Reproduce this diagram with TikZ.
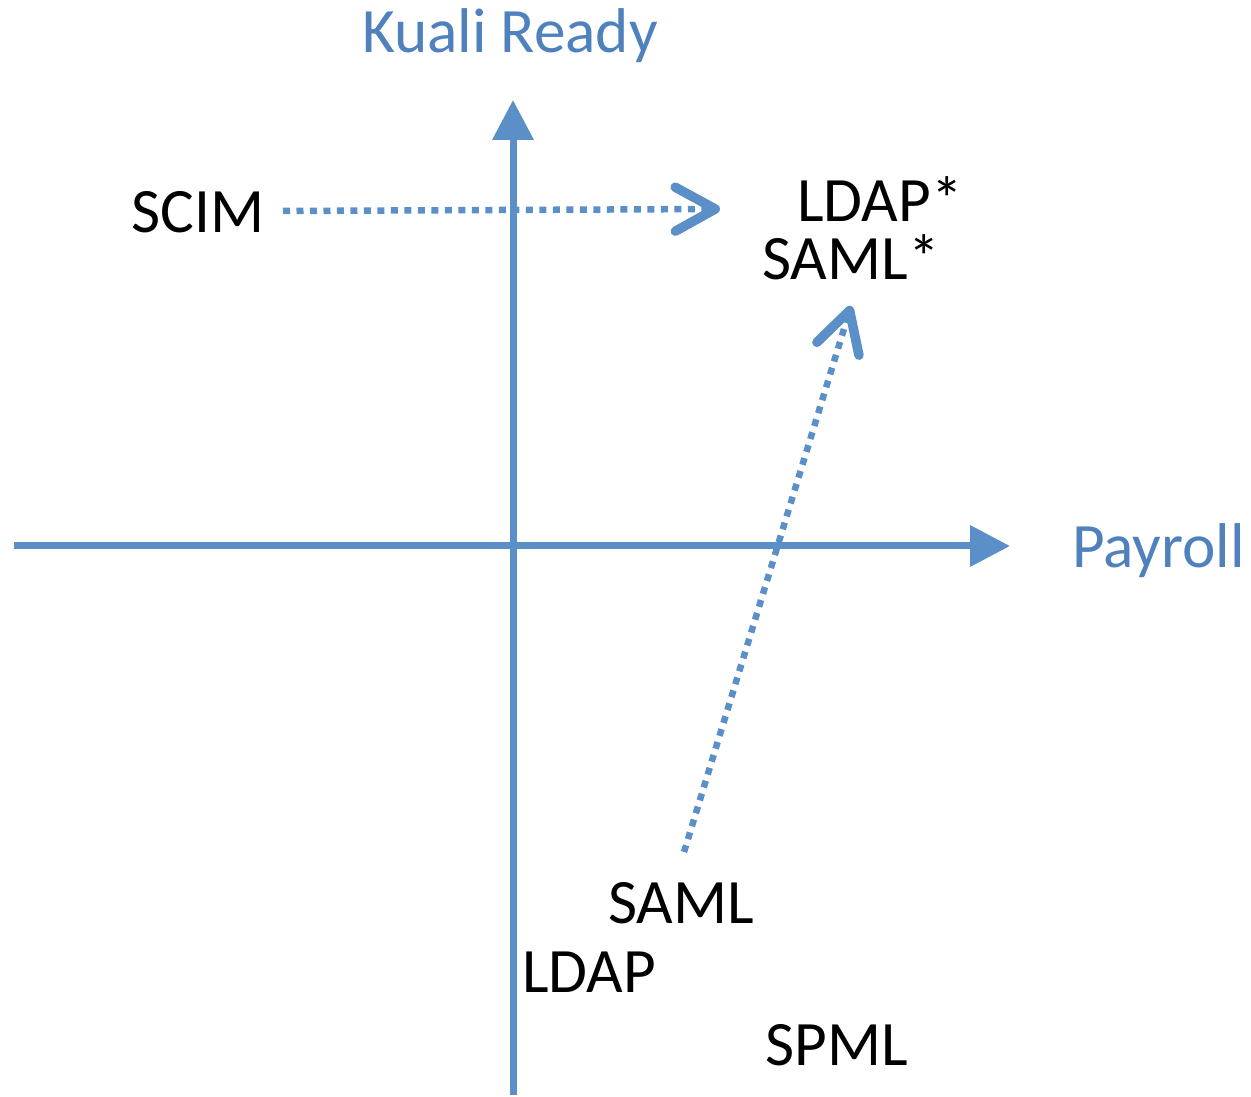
\documentclass[tikz,border=0pt]{standalone}
\usepackage{fontspec}
\setmainfont{Carlito}
\usetikzlibrary{arrows.meta}
\definecolor{axisblue}{RGB}{91,143,200}
\definecolor{labelblue}{RGB}{79,129,189}
\begin{document}
\begin{tikzpicture}[x=0.02cm,y=-0.02cm,every node/.style={inner sep=0pt,anchor=base west,font=\fontsize{36}{43}\selectfont}]
	\tikzstyle{axis}=[draw=axisblue,line width=0.14cm,-{Triangle[length=0.8cm,width=0.8cm]}]
	\tikzstyle{move}=[draw=axisblue,line width=0.13cm,dash pattern=on 0.14cm off 0.13cm,-{Straight Barb[length=0.8cm,width=0.88cm,line width=0.19cm,round]}]
	\tikzstyle{axislabel}=[text=labelblue]
	\useasboundingbox (0,0) rectangle (1251,1097);
	% axes
	\coordinate (ybot) at (513,1095);
	\coordinate (ytop) at (513,100);
	\coordinate (xleft) at (14,546);
	\coordinate (xright) at (1010,546);
	\draw[axis] (ybot) -- (ytop);
	\draw[axis] (xleft) -- (xright);
	\node[axislabel,anchor=base] (kuali) at (510,53) {Kuali Ready};
	\node[axislabel] (payroll) at (1072,568) {Payroll};
	% standards
	\node (scim) at (131,233) {SCIM};
	\node (ldapstar) at (797,222) {LDAP*};
	\node (samlstar) at (762,280) {SAML*};
	\node (saml) at (608,923) {SAML};
	\node (ldap) at (522,992) {LDAP};
	\node (spml) at (765,1065) {SPML};
	% moves
	\coordinate (scimout) at (283,211);
	\coordinate (scimin) at (720,209);
	\coordinate (samlout) at (684,852);
	\coordinate (samlin) at (851,306);
	\draw[move] (scimout) -- (scimin);
	\draw[move] (samlout) -- (samlin);
\end{tikzpicture}
\end{document}
